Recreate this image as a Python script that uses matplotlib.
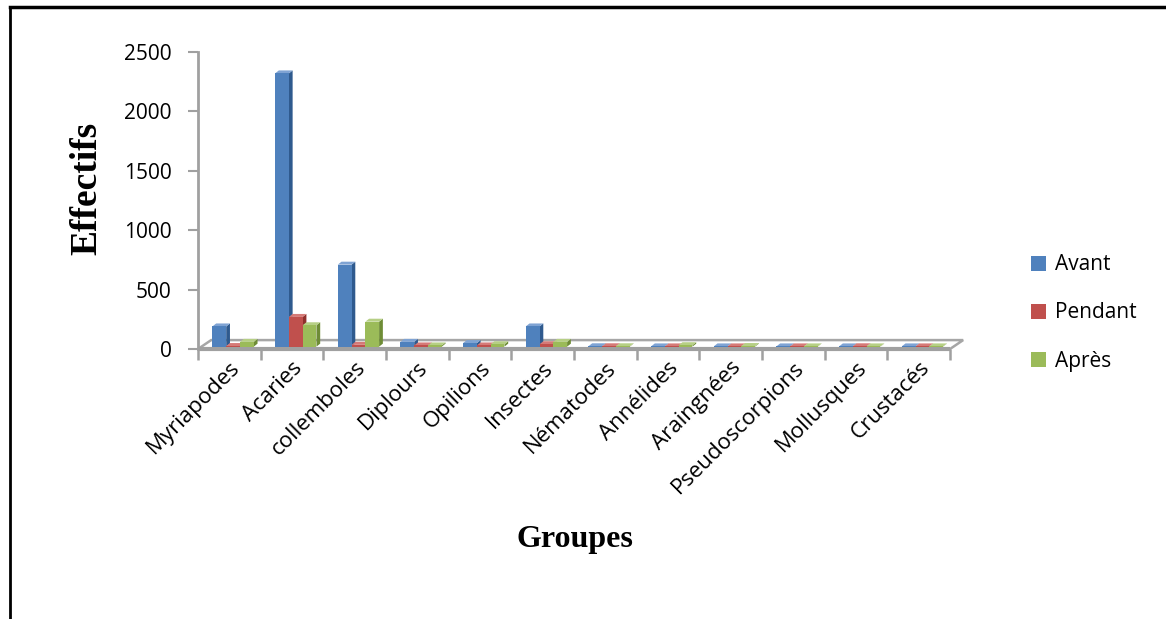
import numpy as np
import matplotlib
matplotlib.use("Agg")
import matplotlib.pyplot as plt
from matplotlib.patches import Polygon, Patch
from matplotlib.lines import Line2D

# ── Data ───────────────────────────────────────────────────────────────────────
groupes = ["Myriapodes", "Acaries", "collemboles", "Diplours", "Opilions",
           "Insectes", "Nématodes", "Annélides", "Araingnées",
           "Pseudoscorpions", "Mollusques", "Crustacés"]
avant   = [170, 2300, 690, 40, 30, 170, 3, 2, 2, 2, 2, 2]
pendant = [5, 250, 15, 10, 10, 20, 3, 2, 2, 2, 3, 2]
apres   = [40, 180, 210, 10, 20, 40, 3, 12, 5, 2, 2, 2]

series = [("Avant", avant), ("Pendant", pendant), ("Après", apres)]
front  = ["#4F81BD", "#C0504D", "#9BBB59"]
side   = ["#2F5A8E", "#8E2F2C", "#6E8C36"]
top    = ["#7FA3D3", "#D57A77", "#B6CF85"]

SANS = "Open Sans"
W, H = 1166, 619
fig = plt.figure(figsize=(W / 100, H / 100), dpi=100)

# outer frame (left and top only, like the scanned page)
fig.add_artist(Line2D([10 / W, 10 / W], [0, 1 - 7 / H], color="black", lw=2))
fig.add_artist(Line2D([10 / W, 1165 / W], [1 - 7 / H, 1 - 7 / H], color="black", lw=2.5))

# axes: x from -0.5 (px 198) to 11.5 (px 950); y 0 at px 349, 2500 at px 52
ax = fig.add_axes([198 / W, (H - 349) / H, 752 / W, 297 / H])
n = len(groupes)
ax.set_xlim(-0.5, n - 0.5)
ax.set_ylim(0, 2500)

# depth of the pseudo-3D effect, in data units
ddx, ddy = 0.21, 75      # floor
bdx, bdy = 0.06, 25      # bar side / top

# floor
floor = Polygon([(-0.5, 0), (n - 0.5, 0), (n - 0.5 + ddx, ddy), (-0.5 + ddx, ddy)],
                closed=True, facecolor="white", edgecolor="#A6A6A6", lw=1.8,
                zorder=1, clip_on=False)
ax.add_patch(floor)
ax.plot([-0.5, n - 0.5], [0, 0], color="#A0A0A0", lw=3, zorder=2, clip_on=False,
        solid_capstyle="butt")

# bars
x = np.arange(n)
w = 0.22
base = 20
for i, (name, vals) in enumerate(series):
    xs = x + (i - 1) * w + 0.06
    z = 3 + i
    for xc, v in zip(xs, vals):
        x0, x1 = xc - w / 2, xc + w / 2
        ax.add_patch(Polygon([(x1, base), (x1 + bdx, base + bdy),
                              (x1 + bdx, base + v + bdy), (x1, base + v)],
                             closed=True, facecolor=side[i], edgecolor="none",
                             zorder=z, clip_on=False))
        ax.add_patch(Polygon([(x0, base + v), (x1, base + v),
                              (x1 + bdx, base + v + bdy), (x0 + bdx, base + v + bdy)],
                             closed=True, facecolor=top[i], edgecolor="none",
                             zorder=z, clip_on=False))
    ax.bar(xs, vals, bottom=base, width=w, color=front[i], edgecolor="none",
           zorder=z + 0.5, label=name)

# axes styling
for s in ["top", "right", "bottom"]:
    ax.spines[s].set_visible(False)
ax.spines["left"].set_color("#A0A0A0")
ax.spines["left"].set_linewidth(2)
ax.set_yticks(np.arange(0, 2501, 500))
ax.tick_params(axis="y", direction="out", length=7, width=1.5, color="#A0A0A0",
               labelsize=15, pad=12)
ax.set_xticks(x)
ax.set_xticks(np.arange(-0.5, n), minor=True)
ax.tick_params(axis="x", which="major", length=0, pad=6)
ax.tick_params(axis="x", which="minor", direction="out", length=8, width=1.8,
               color="#A0A0A0")
ax.set_xticklabels(groupes, rotation=45, ha="right", rotation_mode="anchor",
                   fontsize=16, family=SANS)
for lab in ax.get_yticklabels():
    lab.set_family(SANS)
ax.patch.set_visible(False)

# axis titles
fig.text(575 / W, 1 - 540 / H, "Groupes", family="Liberation Serif",
         fontweight="bold", fontsize=23, ha="center", va="center")
fig.text(87 / W, 1 - 188 / H, "Effectifs", family="Liberation Serif",
         fontweight="bold", fontsize=27, ha="center", va="center", rotation=90)

# legend
handles = [Patch(facecolor=c, edgecolor="none") for c in front]
fig.legend(handles, [s[0] for s in series], loc="center left",
           bbox_to_anchor=(1012 / W, 1 - 313 / H), frameon=False,
           prop={"family": SANS, "size": 15}, handlelength=0.75, handleheight=0.75,
           handletextpad=0.4, labelspacing=1.3)

fig.savefig("out.png", dpi=100)
